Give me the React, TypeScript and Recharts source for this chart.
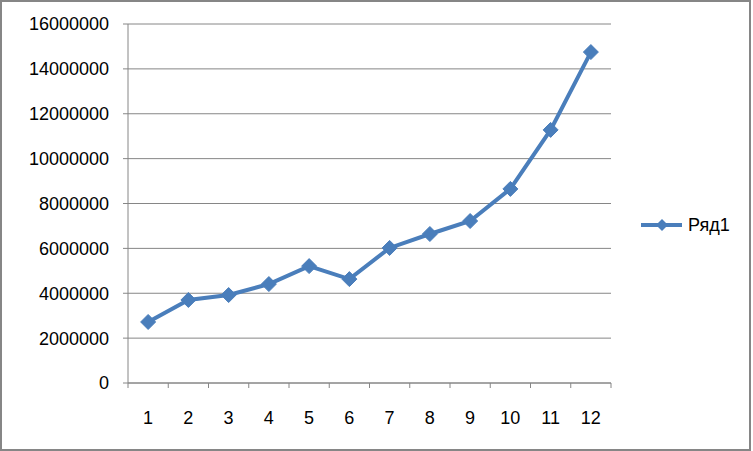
import { CartesianGrid, Line, LineChart, XAxis, YAxis } from "recharts";

const months = ["1", "2", "3", "4", "5", "6", "7", "8", "9", "10", "11", "12"];
const series1 = [
  2720000, 3700000, 3920000, 4410000, 5210000, 4630000, 6020000, 6640000, 7220000,
  8650000, 11280000, 14750000,
];
const yTicks = [0, 2000000, 4000000, 6000000, 8000000, 10000000, 12000000, 14000000, 16000000];
const seriesName = "Ряд1";

const data = months.map((m, i) => ({ month: m, value: series1[i] }));

const BLUE = "#4A7EBB";
const GRAY = "#868686";
const FONT = "'Liberation Sans', Arial, sans-serif";

function Diamond(props: any) {
  const { cx, cy } = props;
  if (cx == null || cy == null) return null;
  const r = 7.5;
  return (
    <polygon
      points={`${cx},${cy - r} ${cx + r},${cy} ${cx},${cy + r} ${cx - r},${cy}`}
      fill={BLUE}
      stroke={BLUE}
      strokeWidth={1}
    />
  );
}

// Excel-style category tick: label at band centre, tick marks on band edges
function CategoryTick(props: any) {
  const { x, y, payload, index, visibleTicksCount } = props;
  const half = payload?.offset ?? 0;
  const isLast = index === visibleTicksCount - 1;
  return (
    <g>
      <line x1={x - half} y1={y} x2={x - half} y2={y + 5} stroke={GRAY} />
      {isLast && <line x1={x + half} y1={y} x2={x + half} y2={y + 5} stroke={GRAY} />}
      <text
        x={x}
        y={y + 28}
        dy="0.71em"
        textAnchor="middle"
        fontSize={18}
        fontFamily={FONT}
        fill="#000"
      >
        {payload.value}
      </text>
    </g>
  );
}

function LegendBox() {
  return (
    <svg width={110} height={24} style={{ display: "block" }}>
      <line x1={0} y1={12} x2={41} y2={12} stroke={BLUE} strokeWidth={4} />
      <polygon points="21,6 27,12 21,18 15,12" fill={BLUE} />
      <text x={47} y={12} dy="0.355em" fontSize={18} fontFamily={FONT} fill="#000">
        {seriesName}
      </text>
    </svg>
  );
}

export default function App() {
  return (
    <div style={{ position: "absolute", left: 0, top: 0, width: 753, height: 451, background: "#fff" }}>
      <LineChart
        width={753}
        height={451}
        data={data}
        margin={{ top: 24, right: 142, bottom: 0, left: 0 }}
      >
        <CartesianGrid vertical={false} stroke={GRAY} strokeWidth={1} />
        <XAxis
          dataKey="month"
          type="category"
          scale="band"
          height={68}
          interval={0}
          axisLine={{ stroke: GRAY }}
          tickLine={false}
          tickSize={0}
          tickMargin={0}
          tick={<CategoryTick />}
        />
        <YAxis
          width={128}
          domain={[0, 16000000]}
          ticks={yTicks}
          interval={0}
          tickSize={5}
          tickMargin={14}
          axisLine={{ stroke: GRAY }}
          tickLine={{ stroke: GRAY }}
          tick={{ fill: "#000", fontSize: 18, fontFamily: FONT }}
        />
        <Line
          dataKey="value"
          name={seriesName}
          stroke={BLUE}
          strokeWidth={4}
          dot={<Diamond />}
          activeDot={false}
          isAnimationActive={false}
        />
      </LineChart>
      <div style={{ position: "absolute", left: 641, top: 213 }}>
        <LegendBox />
      </div>
      <div
        style={{
          position: "absolute",
          left: 0,
          top: 0,
          width: 751,
          height: 451,
          boxSizing: "border-box",
          border: `2px solid ${GRAY}`,
          pointerEvents: "none",
        }}
      />
    </div>
  );
}
